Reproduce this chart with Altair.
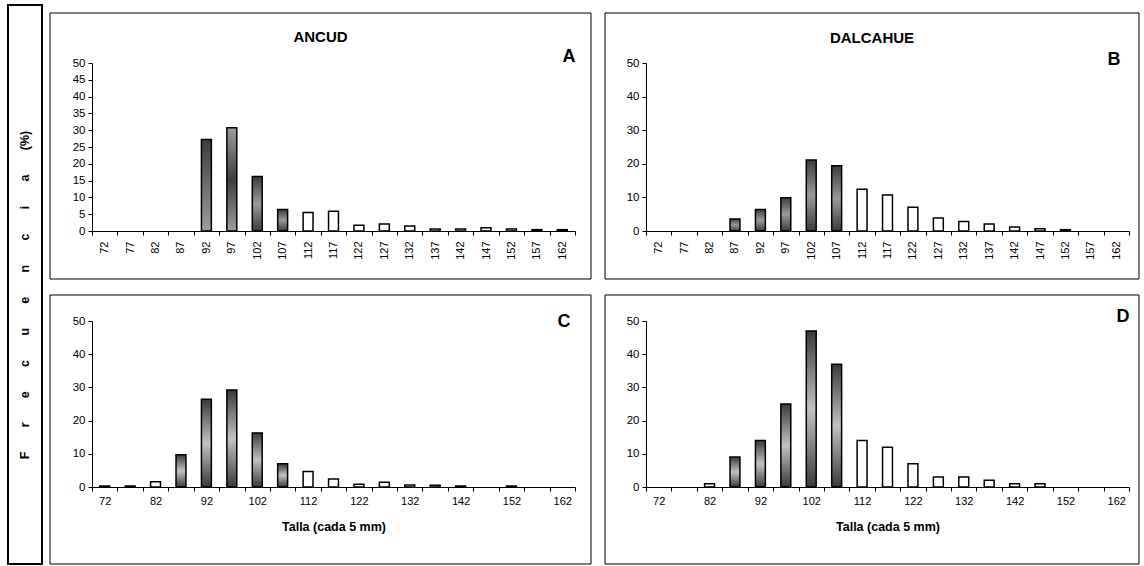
import altair as alt
import pandas as pd

FONT = "Liberation Sans"

# ---------------- data ----------------
tallas = [72, 77, 82, 87, 92, 97, 102, 107, 112, 117, 122, 127, 132, 137, 142, 147, 152, 157, 162]

ancud = [0, 0, 0, 0, 27.2, 30.7, 16.2, 6.4, 5.5, 5.9, 1.7, 2.1, 1.5, 0.6, 0.6, 1.0, 0.6, 0.4, 0.4]
ancud_estilo = ["w", "w", "w", "w", "down", "inv", "gA", "gA"] + ["w"] * 11

dalcahue = [0, 0, 0, 3.6, 6.4, 9.9, 21.1, 19.4, 12.4, 10.7, 7.1, 3.9, 2.8, 2.1, 1.2, 0.7, 0.4, 0, 0]
dalcahue_estilo = ["w", "w", "w", "gA", "gA", "gA", "gA", "gA"] + ["w"] * 11

panel_c = [0.3, 0.3, 1.6, 9.7, 26.4, 29.2, 16.3, 7.0, 4.7, 2.4, 0.8, 1.4, 0.6, 0.5, 0.3, 0, 0.3, 0, 0]
panel_c_estilo = ["w", "w", "w", "g", "g", "g", "g", "g"] + ["w"] * 11

panel_d = [0, 0, 1, 9, 14, 25, 47, 37, 14, 12, 7, 3, 3, 2, 1, 1, 0, 0, 0]
panel_d_estilo = ["w", "w", "w", "g", "g", "g", "g", "g"] + ["w"] * 11

eje_y_titulo = "Frecuencia"
eje_y_unidad = "(%)"
eje_x_titulo = "Talla (cada 5 mm)"


def grad(stops):
    return alt.Gradient(
        gradient="linear",
        x1=0, x2=0, y1=0, y2=1,
        stops=[alt.GradientStop(color=c, offset=o) for o, c in stops],
    )


FILLS = {
    "w": "#ffffff",
    "g": grad([(0, "#3a3a3a"), (0.5, "#c2c2c2"), (1, "#3a3a3a")]),
    "gA": grad([(0, "#3c3c3c"), (0.5, "#9a9a9a"), (1, "#3c3c3c")]),
    "inv": grad([(0, "#9c9c9c"), (0.5, "#3e3e3e"), (1, "#9c9c9c")]),
    "down": grad([(0, "#3c3c3c"), (1, "#9e9e9e")]),
}

one = pd.DataFrame({"k": [0]})


def panel(values, estilos, ystep, rotated, W, H, frame, title=None, title_pos=None,
          letter=None, letter_pos=None):
    df = pd.DataFrame({"talla": tallas, "pct": values, "estilo": estilos})
    if rotated:
        xaxis = alt.Axis(title=None, labelAngle=-90, labelFont=FONT, labelFontSize=11,
                         labelColor="#000", tickBand="extent", tickSize=4, tickColor="#000",
                         domainColor="#000", labelPadding=6, grid=False, labelOverlap=False)
    else:
        xaxis = alt.Axis(title=eje_x_titulo, labelAngle=0, labelFont=FONT, labelFontSize=11,
                         labelColor="#000", tickBand="extent", tickSize=4, tickColor="#000",
                         domainColor="#000", labelPadding=4, grid=False, labelOverlap=False,
                         labelExpr="(datum.value - 72) % 10 == 0 ? datum.label : ''",
                         titleFont=FONT, titleFontSize=12.5, titleFontWeight="bold",
                         titleColor="#000", titlePadding=14)
    xenc = alt.X("talla:O", scale=alt.Scale(domain=tallas, paddingInner=0, paddingOuter=0),
                 axis=xaxis)
    yenc = alt.Y("pct:Q", scale=alt.Scale(domain=[0, 50], nice=False),
                 axis=alt.Axis(title=None, values=list(range(0, 51, ystep)), labelFont=FONT,
                               labelFontSize=11.5, labelColor="#000", tickSize=4,
                               tickColor="#000", domainColor="#000", labelPadding=3,
                               grid=False))
    layers = []
    fx0, fy0, fx1, fy1 = frame
    layers.append(
        alt.Chart(one).mark_rect(filled=False, color="#000", strokeWidth=1).encode(
            x=alt.value(fx0), x2=alt.value(fx1), y=alt.value(fy0), y2=alt.value(fy1))
    )
    for key in ["w", "g", "gA", "inv", "down"]:
        if key not in estilos:
            continue
        layers.append(
            alt.Chart(df)
            .transform_filter((alt.datum.estilo == key) & (alt.datum.pct > 0))
            .mark_bar(width={"band": 0.39}, fill=FILLS[key], stroke="#000", strokeWidth=1.5)
            .encode(x=xenc, y=yenc)
        )
    if title:
        layers.append(
            alt.Chart(one).mark_text(text=title, font=FONT, fontSize=15, fontWeight="bold",
                                     align="center", baseline="middle", color="#000")
            .encode(x=alt.value(title_pos[0]), y=alt.value(title_pos[1]))
        )
    if letter:
        layers.append(
            alt.Chart(one).mark_text(text=letter, font=FONT, fontSize=18, fontWeight="bold",
                                     align="center", baseline="middle", color="#000")
            .encode(x=alt.value(letter_pos[0]), y=alt.value(letter_pos[1]))
        )
    return alt.layer(*layers).properties(width=W, height=H)


PW = 483
pA = panel(ancud, ancud_estilo, 5, True, PW, 168, (-42, -50, PW + 16, 168 + 48),
           title="ANCUD", title_pos=(228.5, -26), letter="A", letter_pos=(477, -6))
pB = panel(dalcahue, dalcahue_estilo, 10, True, PW, 168, (-41, -50, PW + 10, 168 + 48),
           title="DALCAHUE", title_pos=(226, -25), letter="B", letter_pos=(468, -3))
pC = panel(panel_c, panel_c_estilo, 10, False, PW, 166, (-42, -26, PW + 16, 166 + 77),
           letter="C", letter_pos=(472, 1))
pD = panel(panel_d, panel_d_estilo, 10, False, PW, 166, (-41, -26, PW + 10, 166 + 77),
           letter="D", letter_pos=(477, -4))

sep = "\u00a0" * 7
strip_label = sep.join(list(eje_y_titulo)) + sep + eje_y_unidad

strip = alt.layer(
    alt.Chart(one).mark_rect(filled=False, color="#000", strokeWidth=2).encode(
        x=alt.value(0), x2=alt.value(34), y=alt.value(-58), y2=alt.value(501)),
    alt.Chart(one).mark_text(text=strip_label, angle=270, font=FONT, fontSize=12.5,
                             fontWeight="bold", align="center", baseline="middle",
                             color="#000").encode(x=alt.value(17), y=alt.value(232)),
).properties(width=34, height=168)

grid = alt.concat(pA, pB, pC, pD, columns=2, spacing={"row": 90, "column": 71},
                  bounds="flush")

chart = alt.hconcat(strip, grid, spacing=50, bounds="flush").properties(
    padding={"left": 7, "top": 4, "right": 0, "bottom": 0},
    background="white",
).configure_view(stroke=None)

chart.save("out.html", embed_options={"renderer": "svg", "actions": False})
